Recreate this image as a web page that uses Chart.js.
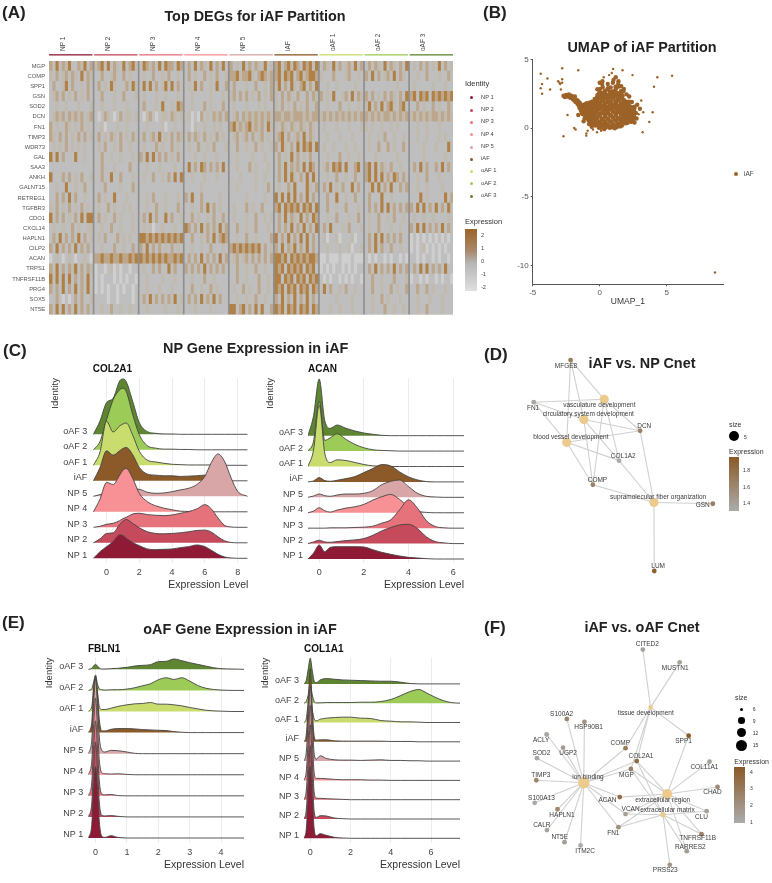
<!DOCTYPE html>
<html lang="en">
<head>
<meta charset="UTF-8">
<title>iAF Partition Figure</title>
<script src="https://cdn.jsdelivr.net/npm/chart.js"></script>
<style>
    html, body { margin: 0; background: #fff; }
    #page { position: relative; width: 772px; height: 883px; overflow: hidden; font-family: 'Liberation Sans', Arial, sans-serif; color: #222; filter: blur(0.3px); }
    canvas { position: absolute; }
    .t { position: absolute; white-space: nowrap; line-height: 1; }
    .bar { position: absolute; }
    .dot { position: absolute; border-radius: 50%; }
</style>
</head>
<body>
<div id="page"></div>
<script>
// ---------- data ----------
const groupNames = ['NP 1', 'NP 2', 'NP 3', 'NP 4', 'NP 5', 'iAF', 'oAF 1', 'oAF 2', 'oAF 3'];
const geneNames = ['MGP', 'COMP', 'SPP1', 'GSN', 'SOD2', 'DCN', 'FN1', 'TIMP3', 'WDR73', 'GAL', 'SAA3', 'ANKH', 'GALNT15', 'RETREG1', 'TGFBR3', 'CDO1', 'CXCL14', 'HAPLN1', 'CILP2', 'ACAN', 'TRPS1', 'TNFRSF11B', 'PRG4', 'SOX5', 'NT5E'];
// heatmap levels 0 (low) to 4 (high), one string per gene, one block per group
const heatRows = [
    '31413241132413 23414132141342 14323141433143 13141321413141 31214131321412 34134243143414 13214131231413 13132141321314 12131312141312',
    '21312313214132 11311231131211 12113112131121 13121131213112 33423342134323 34243413423443 21113111231121 31413123141321 11211311121131',
    '13112413112131 13121421113142 14141312414131 12141311214113 13111211311213 24131421341314 11211211111211 11111111112111 12111112111211',
    '12313121312131 11311121131112 12111211211121 11211111211121 23131312131213 21313213113132 31214112314132 31312131321314 34143414343434',
    '11211211121112 11211121112111 13111214112143 11211131211131 12111211121211 21312131213113 11211131121121 24131413421341 11312113121131',
    '12323132323123 10132101312212 10231012213212 12010312132313 12313232323232 33233233323233 23232323232323 32323233232323 23232323323232',
    '31211321213121 11201112112111 11211112011211 11021121121211 34232342323142 21321321321321 12111211121112 21211211212111 11211211121111',
    '32131312131312 13121321312131 13123141213132 13132131213121 12312313123121 23413123141321 11211121112111 12112131121121 11211211121211',
    '12121312121211 12131121311211 12111312113121 12113112131112 11311211312112 31421314143414 12112111211211 12113113121131 11112111211141',
    '41413111411211 11311211211121 31414131312131 11121121112111 11211112111211 13121413121311 11211131121121 11121111112111 11112111111211',
    '11111111111111 11311121111311 11211121111211 14131431313141 11211131211121 13141323141431 12314341411341 34141321311211 13141311314131',
    '41113131213112 11311411311121 12113112131414 11211121112111 11121111211211 13141421314141 11211311211311 34141413143131 11211311121111',
    '11211411211311 11131111211131 11111111111111 11111211111111 11211111211131 12113141114213 13141213114131 12414131411313 11211211112111',
    '11313141311211 13121141112111 11213111211121 31411311111211 11111211111211 41414141314131 11311411211311 13111411211111 11141211111413',
    '21312131213121 12113121121211 11211311211131 11211314131211 12111312113111 34143434143414 11311211311121 13131414131313 31414131413141',
    '41313121314144 13121131211121 13141311413112 11312112131131 12111211311212 13141321413143 11211311121131 12113112131121 12112112111121',
    '12112113121122 11211311211121 12120112111211 43131413131413 11311211311121 13131413141314 13141112131112 12113111211211 31414131314131',
    '13141313141312 12131113121211 44343434343434 11311213141343 11211311211113 41314131414131 12011201112011 13141413131311 01010101010101',
    '31413131413131 11211131121131 31413131213121 11211211311121 34343434341312 31413241314131 11211121120112 13141311311211 01012010101011',
    '01210121011210 33433433433434 43434343433434 13131413131413 12312313131313 44341434343443 00100010001000 10101101011010 11010110101101',
    '31413132413132 01101201011011 12113131141311 31313141313131 11311211311211 43414343414341 01010110101011 13141313141313 13141413131411',
    '41414141313141 01011101010110 11211112111211 11211131121111 11311211131121 44143414341434 10101101010110 11311211131112 01101011010110',
    '31314131413141 01010110101101 11211121112111 11311211312111 12113121131121 43414341434143 14131121311211 11311211312113 11311312111211',
    '11310101313112 11110110111101 13141313131412 13131413141311 11211211311211 31413141314131 11111211112111 11211312111211 11211121112111',
    '31414131413131 11211311211211 11211111211121 11121111211111 44134131414113 43414341434143 11121121112111 11211131121121 11211311112111'
];

// UMAP cells, estimated from the scatter; the first 40 are the sparse outliers
const umapX = [
    -4.4,-4.3,-4.4,-3.9,-3.7,-3.1,-2.8,-2.8,-2.8,-1.6,-2.7,-4.3,-3.0,-2.95,-2.9,1.0,1.7,2.45,4.3,5.4,
    4.05,3.95,3.1,3.25,2.9,3.7,3.2,8.6,-1.9,-1.8,-2.4,-1.0,-1.0,-0.9,-0.5,-0.2,0.1,0.9,0.7,0.3,
    -2.7,-2.6,-2.5,-2.4,-2.3,-2.2,-2.1,-2.0,-1.9,-1.85,-1.8,-1.7,-1.65,-1.6,-1.55,-1.5,-1.5,-1.45,-1.4,-1.4,
    -1.6,-1.2,-0.8,-0.6,0.0,0.2,0.6,1.2,1.4,1.6,1.8,2.0,2.2,2.4,2.6,2.7,2.8,2.75,3.0,2.6,
    -1.28,-1.12,-0.85,-0.72,-0.47,-0.33,-0.06,0.08,0.33,0.46,0.74,0.88,1.13,1.28,1.54,1.66,1.93,2.08,2.34,2.47,
    -1.33,-1.06,-0.93,-0.66,-0.52,-0.26,-0.13,0.14,0.27,0.53,0.67,0.94,1.07,1.34,1.46,1.73,1.87,2.14,2.26,2.53,
    -1.25,-1.15,-0.88,-0.74,-0.45,-0.35,-0.08,0.06,0.36,0.44,0.76,0.85,1.15,1.25,1.56,1.64,1.95,2.05,2.36,2.44,
    -1.36,-1.04,-0.96,-0.63,-0.55,-0.24,-0.15,0.16,0.24,0.56,0.64,0.96,1.04,1.36,1.44,1.76,1.84,2.16,2.24,2.56,
    -1.27,-1.13,-0.83,-0.76,-0.43,-0.37,-0.04,0.03,0.38,0.42,0.78,0.83,1.17,1.23,1.58,1.62,1.97,2.03,2.38,2.42,
    -1.32,-1.07,-0.95,-0.65,-0.54,-0.25,-0.14,0.17,0.26,0.54,0.62,0.97,1.06,1.35,1.45,1.74,1.86,2.15,2.27,2.55,
    -1.24,-1.16,-0.87,-0.73,-0.46,-0.32,-0.07,0.09,0.34,0.47,0.73,0.87,1.14,1.27,1.53,1.67,1.92,2.09,2.33,2.48,
    -1.35,-1.05,-0.92,-0.67,-0.51,-0.27,-0.12,0.13,0.28,0.52,0.68,0.93,1.08,1.33,1.47,1.72,1.88,2.13,2.28,2.52,
    -1.26,-1.14,-0.86,-0.75,-0.44,-0.36,-0.05,0.05,0.35,0.43,0.75,0.84,1.16,1.24,1.57,1.63,1.96,2.04,2.37,2.43,
    -1.34,-1.08,-0.94,-0.64,-0.53,-0.23,-0.16,0.15,0.25,0.55,0.63,0.95,1.05,1.37,1.43,1.75,1.85,2.17,2.23,2.57,
    -1.29,-1.11,-0.84,-0.77,-0.48,-0.34,-0.03,0.07,0.32,0.48,0.72,0.89,1.12,1.29,1.52,1.68,1.91,2.07,2.32,2.49,
    -1.31,-1.09,-0.97,-0.62,-0.56,-0.22,-0.17,0.12,0.29,0.51,0.69,0.92,1.09,1.32,1.48,1.71,1.89,2.12,2.29,2.51,
    -1.23,-1.17,-0.82,-0.78,-0.42,-0.38,-0.02,0.04,0.37,0.41,0.77,0.82,1.18,1.22,1.59,1.61,1.98,2.02,2.39,2.41,
    -1.37,-1.03,-0.98,-0.61,-0.57,-0.21,-0.18,0.18,0.23,0.57,0.61,0.98,1.03,1.38,1.42,1.78,1.82,2.18,2.22,2.58
];
const umapY = [
    3.95,3.2,2.9,3.6,2.8,3.4,4.35,3.55,3.3,4.2,-0.6,2.5,3.3,3.2,2.8,4.3,4.2,3.85,3.7,3.8,
    3.0,1.15,2.0,1.15,1.0,0.45,-0.3,-10.5,0,-0.1,0.95,-0.55,-0.4,-0.2,-0.1,-0.3,-0.2,4.0,3.85,3.7,
    2.35,2.25,2.4,2.3,2.45,2.2,2.35,2.1,2.0,2.3,1.9,2.05,1.75,1.95,1.6,1.85,1.45,1.7,1.3,1.55,
    0.95,0.5,0.3,0.1,3.3,3.4,3.2,3.7,3.4,3.05,2.85,2.45,2.3,1.9,1.55,1.1,1.7,0.7,1.4,0.4,
    1.02,0.72,0.58,0.38,0.28,0.18,0.02,0.03,-0.08,0.04,0.02,0.05,-0.02,0.08,0.12,0.18,0.34,0.38,0.45,0.58,
    1.1,0.88,0.7,0.52,0.45,0.34,0.28,0.22,0.2,0.27,0.2,0.3,0.22,0.28,0.3,0.41,0.45,0.52,0.56,0.7,
    1.15,0.97,0.85,0.7,0.62,0.55,0.45,0.5,0.43,0.42,0.5,0.48,0.55,0.5,0.55,0.58,0.62,0.65,0.62,0.78,
    1.22,1.05,0.93,0.82,0.78,0.72,0.75,0.7,0.62,0.68,0.66,0.78,0.75,0.72,0.7,0.78,0.75,0.8,0.75,0.85,
    1.28,1.15,1.05,0.98,0.9,0.92,0.95,0.95,0.88,0.86,0.92,0.98,1.02,0.95,0.95,0.94,0.88,0.92,0.85,0.9,
    1.33,1.22,1.18,1.1,1.08,1.12,1.15,1.14,1.1,1.05,1.12,1.22,1.2,1.18,1.14,1.12,1.05,1.0,0.92,1.0,
    1.38,1.32,1.28,1.22,1.25,1.3,1.38,1.4,1.3,1.3,1.35,1.42,1.48,1.4,1.35,1.3,1.15,1.12,1.02,1.05,
    1.44,1.4,1.42,1.38,1.38,1.46,1.6,1.6,1.55,1.5,1.55,1.68,1.7,1.62,1.55,1.52,1.28,1.22,1.08,1.12,
    1.5,1.48,1.5,1.5,1.5,1.62,1.8,1.82,1.75,1.7,1.78,1.9,1.95,1.85,1.78,1.7,1.42,1.34,1.18,1.18,
    1.55,1.55,1.58,1.6,1.62,1.78,2.0,2.05,1.98,1.9,1.98,2.15,2.2,2.08,2.0,1.92,1.55,1.45,1.25,1.22,
    1.6,1.6,1.65,1.7,1.72,1.9,2.2,2.3,2.2,2.15,2.2,2.4,2.42,2.3,2.2,2.15,1.7,1.58,1.35,1.28,
    1.64,1.65,1.7,1.78,1.8,2.02,2.4,2.55,2.42,2.35,2.45,2.65,2.7,2.55,2.45,2.35,1.82,1.7,1.45,1.32,
    1.67,1.7,1.75,1.85,1.85,2.12,2.6,2.85,2.7,2.55,2.65,2.95,3.0,2.85,2.7,2.5,1.92,1.8,1.52,1.36,
    1.7,1.75,1.8,1.9,1.92,2.22,2.82,3.2,2.98,2.8,2.9,3.3,3.5,3.2,3.02,2.7,2.02,1.92,1.6,1.42
];

// ridge densities, rows go NP 1 ... oAF 3
const col2a1X = [-0.8,-0.4,0,0.4,0.8,1,1.2,1.6,2,2.5,3,3.5,4,4.5,5,5.5,6,6.4,6.8,7.2,7.6,8,8.6];
const col2a1 = [
    [0,20,35,50,70,68,60,47,38,28,26,27,28,32,35,40,35,24,12,4,1,0,0],
    [0,12,28,30,55,65,70,58,45,33,28,27,28,30,33,37,38,32,18,6,1,0,0],
    [0,3,9,12,20,26,30,40,42,38,36,35,37,42,47,55,68,55,28,6,1,0,0],
    [0,38,88,82,110,125,130,100,55,30,18,11,6,2,1,0,0,0,0,0,0,0,0],
    [0,5,10,10,20,23,25,22,21,12,9,10,14,19,24,35,60,102,127,105,55,15,0],
    [0,40,90,77,90,97,100,78,40,20,17,15,15,13,14,15,17,10,5,2,0,0,0],
    [0,40,132,100,118,124,127,90,42,15,10,6,3,2,1,1,1,1,0,0,0,0,0],
    [0,25,90,150,180,185,175,105,45,12,5,2,2,1,1,0,0,0,0,0,0,0,0],
    [0,40,95,108,160,166,158,98,35,8,3,1,1,0,0,0,0,0,0,0,0,0,0]
];
const acanX = [-0.5,-0.25,0,0.25,0.5,0.8,1.2,1.6,2,2.4,2.8,3.2,3.6,4,4.4,4.8,5.2,5.6,6,6.5];
const acan = [
    [0,18,42,22,35,37,37,37,36,28,20,14,9,5,3,1,0,0,0,0],
    [0,5,10,5,4,6,9,11,15,25,38,48,56,58,45,20,6,2,0,0],
    [0,0,0,0,1,1,1,2,3,6,15,25,55,85,60,22,5,1,0,0],
    [0,5,15,6,2,8,14,18,25,38,48,55,40,18,5,1,0,0,0,0],
    [0,4,10,5,3,7,10,10,12,20,38,48,52,32,12,3,1,0,0,0],
    [0,3,13,4,2,5,10,16,28,40,52,48,30,15,6,1,0,0,0,0],
    [0,50,184,40,12,20,18,12,6,2,1,0,0,0,0,0,0,0,0,0],
    [0,30,150,32,40,52,35,20,10,4,2,1,0,0,0,0,0,0,0,0],
    [0,60,170,45,22,32,22,14,8,4,1,0,0,0,0,0,0,0,0,0]
];
const fbln1X = [-0.23,-0.12,-0.06,0,0.06,0.12,0.2,0.3,0.5,0.7,1,1.25,1.5,1.75,2,2.25,2.5,2.75,3,3.25,3.5,3.75,4,4.35,4.73];
const fbln1 = [
    [0,40,150,214,150,50,5,2,7,2,0,0,0,0,0,0,0,0,0,0,0,0,0,0,0],
    [0,40,150,225,150,45,5,3,4,2,0,0,0,0,0,0,0,0,0,0,0,0,0,0,0],
    [0,40,150,225,150,45,6,3,4,1,0,0,0,0,0,0,0,0,0,0,0,0,0,0,0],
    [0,40,150,230,150,45,6,3,2,3,1,0,0,0,0,0,0,0,0,0,0,0,0,0,0],
    [0,40,150,225,150,50,10,5,10,9,5,1,0,0,0,0,0,0,0,0,0,0,0,0,0],
    [0,30,130,170,120,40,5,5,10,12,12,11,9,8,7,6,3,1,0,0,0,0,0,0,0],
    [0,15,70,100,60,15,6,6,10,15,20,23,24,27,22,22,20,17,12,8,4,2,1,0,0],
    [0,5,25,46,20,5,2,1,2,2,4,8,14,20,32,38,33,38,28,15,7,3,1,0,0],
    [0,3,10,15,10,4,1,1,2,3,6,10,12,14,23,24,31,26,20,15,10,5,2,1,0]
];
const col1a1X = [-0.31,-0.2,-0.1,0,0.1,0.2,0.3,0.5,0.8,1.2,1.6,2,2.5,3,3.5,4,4.5,5,5.4,5.8,6.2,6.6,7,7.44];
const col1a1 = [
    [0,25,120,215,120,25,8,14,9,3,1,0,0,0,0,0,0,0,0,0,0,0,0,0],
    [0,25,120,220,120,20,5,10,9,3,1,0,0,0,0,0,0,0,0,0,0,0,0,0],
    [0,25,120,225,120,20,5,4,3,2,1,0,0,0,0,0,0,0,0,0,0,0,0,0],
    [0,25,120,225,120,20,6,6,5,3,2,2,2,1,1,0,0,0,0,0,0,0,0,0],
    [0,25,120,225,115,20,6,16,8,4,3,3,2,3,4,2,2,1,1,0,0,0,0,0],
    [0,20,110,220,100,15,5,6,6,3,2,2,2,2,2,1,1,1,0,0,0,0,0,0],
    [0,10,60,90,40,10,5,10,13,15,16,16,13,12,6,4,2,2,1,0,0,0,0,0],
    [0,5,25,60,25,5,1,1,2,2,2,2,3,3,5,11,23,36,41,30,18,8,2,0],
    [0,10,45,77,40,8,4,12,16,14,12,11,10,9,8,8,5,1,0,0,0,0,0,0]
];

// network D: terms first, then genes; x/y are the graph layout
const dNames = ['vasculature development', 'circulatory system development', 'blood vessel development', 'supramolecular fiber organization', 'MFGE8', 'FN1', 'DCN', 'COL1A2', 'COMP', 'GSN', 'LUM'];
const dLayoutX = [133.7, 112.7, 95, 185, 99, 61, 170.7, 149, 122, 245.7, 185.3];
const dLayoutY = [56.7, 77.7, 101.3, 163.7, 16, 59.7, 89.3, 120.3, 145.3, 165, 234.7];
const dSize = [5, 5, 5, 5, 0, 0, 0, 0, 0, 0, 0];
const dExpression = [0, 0, 0, 0, 1.7, 1.35, 1.65, 1.3, 1.65, 1.7, 1.95];
const dEdgeFrom = ['MFGE8', 'MFGE8', 'MFGE8', 'FN1', 'FN1', 'FN1', 'DCN', 'DCN', 'DCN', 'DCN', 'COL1A2', 'COL1A2', 'COL1A2', 'COL1A2', 'COMP', 'COMP', 'COMP', 'COMP', 'GSN', 'LUM'];
const dEdgeTo = [0, 1, 2, 0, 1, 2, 0, 1, 2, 3, 0, 1, 2, 3, 0, 1, 2, 3, 3, 3];

// network F
const fNames = ['tissue development', 'ion binding', 'extracellular region', 'extracellular matrix', 'CITED2', 'MUSTN1', 'S100A2', 'HSP90B1', 'ACLY', 'UGP2', 'SOD2', 'TIMP3', 'S100A13', 'HAPLN1', 'CALR', 'NT5E', 'ITM2C', 'COMP', 'COL2A1', 'MGP', 'SPP1', 'COL11A1', 'CHAD', 'ACAN', 'VCAN', 'CLU', 'FN1', 'TNFRSF11B', 'RARRES2', 'PRSS23'];
const fLayoutX = [181.7, 112.3, 199, 194.7, 173.7, 212, 94.7, 113, 73.7, 90.7, 63.7, 63, 61.3, 85, 74, 92.3, 109, 155.7, 167.3, 161.3, 221.3, 243, 251.3, 149.7, 155.7, 240, 148.3, 234.7, 219.3, 201.7];
const fLayoutY = [95.7, 174.3, 186, 207.7, 35.3, 48.7, 107.7, 110.7, 124, 137.7, 148.7, 171.7, 195.3, 202, 223.7, 236.3, 239.7, 138.3, 151.7, 160, 125.3, 152.3, 178.7, 189.3, 207, 204, 220.7, 228, 245.7, 260];
const fSize = [6, 15, 13, 7, 0, 0, 0, 0, 0, 0, 0, 0, 0, 0, 0, 0, 0, 0, 0, 0, 0, 0, 0, 0, 0, 0, 0, 0, 0, 0];
const fExpression = [0, 0, 0, 0, 1.3, 1.4, 2.6, 2.0, 1.3, 1.6, 1.2, 2.5, 1.1, 2.4, 1.3, 1.6, 1, 3.0, 3.8, 2.7, 4.3, 1.4, 2.3, 3.6, 1.5, 1.4, 2.1, 2.7, 1.6, 1.9];
const fEdgeFrom = ['CITED2', 'MUSTN1', 'SPP1', 'COMP', 'COL2A1', 'MGP',
    'S100A2', 'HSP90B1', 'ACLY', 'UGP2', 'SOD2', 'TIMP3', 'S100A13', 'HAPLN1', 'CALR', 'NT5E', 'ITM2C', 'COMP', 'COL2A1', 'MGP', 'ACAN', 'VCAN', 'FN1',
    'COL2A1', 'SPP1', 'COL11A1', 'CHAD', 'ACAN', 'VCAN', 'CLU', 'FN1', 'TNFRSF11B', 'RARRES2', 'MGP',
    'COL2A1', 'MGP', 'VCAN', 'CLU', 'FN1', 'TNFRSF11B', 'PRSS23', 'RARRES2'];
const fEdgeTo = [0, 0, 0, 0, 0, 0,
    1, 1, 1, 1, 1, 1, 1, 1, 1, 1, 1, 1, 1, 1, 1, 1, 1,
    2, 2, 2, 2, 2, 2, 2, 2, 2, 2, 2,
    3, 3, 3, 3, 3, 3, 3, 3];

// ---------- styling and placement ----------
const FONT = "'Liberation Sans', Arial, sans-serif";
const groupColors = ['#8e1a35', '#c44a5c', '#e6727c', '#f79195', '#d9a6a8', '#8b5a28', '#c9dd6f', '#9ccb58', '#5e8530'];
const heatPalette = ['#cfcfcf', '#bfbfbf', '#c1baae', '#bca78c', '#b08045'];
const page = document.getElementById('page');

Chart.defaults.animation = false;
Chart.defaults.events = [];
Chart.defaults.font.family = FONT;
Chart.defaults.plugins.legend.display = false;
Chart.defaults.plugins.tooltip.enabled = false;

function addText(str, x, y, o = {}) {
    const d = document.createElement('div');
    d.className = 't';
    d.textContent = str;
    d.style.left = x + 'px';
    d.style.top = y + 'px';
    d.style.fontSize = (o.size || 7) + 'px';
    if (o.bold) d.style.fontWeight = 'bold';
    if (o.color) d.style.color = o.color;
    const tx = o.align === 'c' ? '-50%' : o.align === 'r' ? '-100%' : '0';
    d.style.transform = `translate(${tx},-50%)`;
    page.appendChild(d);
}

function addBar(x, y, w, h, background) {
    const d = document.createElement('div');
    d.className = 'bar';
    d.style.cssText += `left:${x}px;top:${y}px;width:${w}px;height:${h}px;background:${background}`;
    page.appendChild(d);
}

function addDot(cx, cy, r, color) {
    const d = document.createElement('div');
    d.className = 'dot';
    d.style.cssText += `left:${cx - r}px;top:${cy - r}px;width:${2 * r}px;height:${2 * r}px;background:${color}`;
    page.appendChild(d);
}

function addCanvas(box) {
    const c = document.createElement('canvas');
    c.width = box.right - box.left;
    c.height = box.bottom - box.top;
    c.style.left = box.left + 'px';
    c.style.top = box.top + 'px';
    page.appendChild(c);
    return c;
}

// ---------- (A) heatmap: stacked horizontal bars, one dataset per cell column ----------
function drawHeatmap() {
    const box = { left: 0, top: 30, right: 458, bottom: 322 };
    const plot = { left: 49, top: 61, right: 453, bottom: 319 };
    const gapWidth = 0.54;
    const blocks = heatRows.map(r => r.split(' '));
    const perGroup = 14;
    const datasets = [];
    const centers = [];
    const edges = [];
    let pos = 0;
    groupNames.forEach((g, gi) => {
        edges.push([pos, pos + perGroup]);
        centers.push(pos + perGroup / 2);
        for (let c = 0; c < perGroup; c++) {
            datasets.push({
                data: geneNames.map(() => 1),
                backgroundColor: blocks.map(b => heatPalette[+(b[gi][c] || 1)]),
                borderWidth: 0, barPercentage: 1, categoryPercentage: 1
            });
        }
        pos += perGroup;
        if (gi < groupNames.length - 1) {
            datasets.push({
                data: geneNames.map(() => gapWidth),
                backgroundColor: '#8f8f8f',
                borderWidth: 0, barPercentage: 1, categoryPercentage: 1
            });
            pos += gapWidth;
        }
    });

    const canvas = addCanvas(box);
    canvas.style.filter = 'blur(0.5px)';
    new Chart(canvas, {
        type: 'bar',
        data: { labels: geneNames, datasets },
        options: {
            responsive: false,
            indexAxis: 'y',
            layout: { padding: { top: 0, right: box.right - plot.right, bottom: box.bottom - plot.bottom, left: 0 } },
            scales: {
                x: {
                    type: 'linear', position: 'top', stacked: true, min: 0, max: pos,
                    grid: { display: false, drawTicks: false }, border: { display: false },
                    afterFit: s => { s.height = plot.top - box.top; },
                    afterBuildTicks: s => { s.ticks = centers.map(v => ({ value: v })); },
                    ticks: {
                        autoSkip: false, minRotation: 90, maxRotation: 90, padding: 10,
                        font: { size: 6.5 }, color: '#444',
                        callback: (v, i) => groupNames[i]
                    }
                },
                y: {
                    stacked: true,
                    grid: { display: false, drawTicks: false }, border: { display: false },
                    afterFit: s => { s.width = plot.left - box.left; },
                    ticks: { autoSkip: false, padding: 4, font: { size: 5.8 }, color: '#555' }
                }
            }
        },
        plugins: [{
            id: 'heatDecor',
            beforeDatasetsDraw(chart) {
                const a = chart.chartArea;
                chart.ctx.fillStyle = '#bcbcbc';
                chart.ctx.fillRect(a.left, a.top, a.right - a.left, a.bottom - a.top);
            },
            afterDatasetsDraw(chart) {
                const sx = chart.scales.x, ctx = chart.ctx;
                edges.forEach((e, i) => {
                    ctx.fillStyle = groupColors[i];
                    ctx.fillRect(sx.getPixelForValue(e[0]), 24.2, sx.getPixelForValue(e[1]) - sx.getPixelForValue(e[0]), 1.3);
                });
            }
        }]
    });
}

// ---------- (B) UMAP scatter ----------
function drawUmap() {
    const box = { left: 505, top: 40, right: 730, bottom: 312 };
    const plot = { left: 532.7, top: 59.3, right: 723, bottom: 284.3 };
    const tickFont = { size: 8 };
    new Chart(addCanvas(box), {
        type: 'scatter',
        data: {
            datasets: [{
                data: umapX.map((x, i) => ({ x, y: umapY[i] })),
                backgroundColor: '#9c6228', borderWidth: 0,
                pointRadius: umapX.map((x, i) => i < 40 ? 1.2 : 2.2)
            }]
        },
        options: {
            responsive: false,
            layout: { padding: { top: plot.top - box.top, right: box.right - plot.right, bottom: 0, left: 0 } },
            scales: {
                x: {
                    min: -5, max: 9.2,
                    grid: { drawOnChartArea: false, tickLength: 2, color: '#555' },
                    border: { color: '#555' },
                    afterFit: s => { s.height = box.bottom - plot.bottom; },
                    afterBuildTicks: s => { s.ticks = [-5, 0, 5].map(v => ({ value: v })); },
                    ticks: { font: tickFont, color: '#555', padding: 2 },
                    title: { display: true, text: 'UMAP_1', font: { size: 8.5 }, color: '#333', padding: { top: 0, bottom: 5 } }
                },
                y: {
                    min: -11.36, max: 5,
                    grid: { drawOnChartArea: false, tickLength: 2, color: '#555' },
                    border: { color: '#555' },
                    afterFit: s => { s.width = plot.left - box.left; },
                    afterBuildTicks: s => { s.ticks = [-10, -5, 0, 5].map(v => ({ value: v })); },
                    ticks: { font: tickFont, color: '#555', padding: 2 }
                }
            }
        }
    });
    addDot(735.7, 173.7, 2.2, '#9c6228');
    addText('iAF', 744, 174, { size: 6.5, color: '#444' });
}

// ---------- (C, E) ridgeline panels ----------
function drawRidges(p) {
    const { box, plot, xs, rows, rowHeight, baseRows, xMin, xMax, xTicks } = p;
    const datasets = rows.map((r, i) => ({
        data: xs.map((x, k) => ({ x, y: i + (r[k] || 0) / rowHeight })),
        fill: { value: i },
        backgroundColor: groupColors[i],
        borderColor: '#444',
        borderWidth: 0.9,
        pointRadius: 0,
        cubicInterpolationMode: 'monotone'
    }));
    const rowPx = rowHeight / 3;
    new Chart(addCanvas(box), {
        type: 'line',
        data: { datasets },
        options: {
            responsive: false,
            layout: { padding: { top: plot.top - box.top, right: box.right - plot.right, bottom: 0, left: 0 } },
            scales: {
                x: {
                    type: 'linear', min: xMin, max: xMax,
                    grid: { color: '#ececec', drawTicks: false }, border: { display: false },
                    afterFit: s => { s.height = box.bottom - plot.bottom; },
                    afterBuildTicks: s => { s.ticks = xTicks.map(v => ({ value: v })); },
                    ticks: { font: { size: 9 }, color: '#444', padding: 4 },
                    title: { display: true, text: 'Expression Level', align: 'end', font: { size: 10.5 }, color: '#333', padding: { top: 0, bottom: 1 } }
                },
                y: {
                    min: -(plot.bottom - baseRows) / rowPx, max: (baseRows - plot.top) / rowPx,
                    grid: { display: false, drawTicks: false }, border: { display: false },
                    afterFit: s => { s.width = plot.left - box.left; },
                    afterBuildTicks: s => { s.ticks = groupNames.map((g, i) => ({ value: i })); },
                    ticks: { autoSkip: false, font: { size: 9 }, color: '#444', padding: 5, labelOffset: -3, callback: v => groupNames[v] },
                    title: { display: true, text: 'Identity', align: 'end', font: { size: 9.5 }, color: '#333', padding: { top: 0, bottom: 0 } }
                }
            }
        }
    });
}

// ---------- (D, F) gene-concept networks ----------
function lerpColor(t) {
    const a = [171, 171, 171], b = [139, 90, 40];
    const c = a.map((v, i) => Math.round(v + (b[i] - v) * t));
    return `rgb(${c.join(',')})`;
}

function drawNetwork(p) {
    const { box, names, xs, ys, sizes, expr, edgeFrom, edgeTo, sizeScale, exprMin, exprMax, labelPos } = p;
    const nodeColor = expr.map((v, i) => sizes[i] ? '#ecca8e' : lerpColor((v - exprMin) / (exprMax - exprMin)));
    const nodeR = sizes.map(s => s ? s * sizeScale : 2.4);
    const datasets = [{
        data: xs.map((x, i) => ({ x, y: ys[i] })),
        backgroundColor: nodeColor, borderWidth: 0, pointRadius: nodeR
    }];
    edgeFrom.forEach((name, i) => {
        const a = names.indexOf(name), b = edgeTo[i];
        datasets.push({
            data: [{ x: xs[a], y: ys[a] }, { x: xs[b], y: ys[b] }],
            showLine: true, borderColor: '#d0d0d0', borderWidth: 1.1, pointRadius: 0
        });
    });
    new Chart(addCanvas(box), {
        type: 'scatter',
        data: { datasets },
        options: {
            responsive: false,
            scales: {
                x: { display: false, min: 0, max: box.right - box.left },
                y: { display: false, reverse: true, min: 0, max: box.bottom - box.top }
            }
        },
        plugins: [{
            id: 'nodeLabels',
            afterDatasetsDraw(chart) {
                const ctx = chart.ctx, sx = chart.scales.x, sy = chart.scales.y;
                ctx.save();
                ctx.font = `6.5px ${FONT}`;
                ctx.fillStyle = '#3a3a3a';
                ctx.textAlign = 'center';
                ctx.textBaseline = 'middle';
                names.forEach((n, i) => {
                    ctx.fillText(n, sx.getPixelForValue(labelPos[i][0]), sy.getPixelForValue(labelPos[i][1]));
                });
                ctx.restore();
            }
        }]
    });
}

// ---------- build the page ----------
const LETTER = { size: 17, bold: true, color: '#222' };
const HEAD = { size: 14.4, bold: true, align: 'c', color: '#222' };
const GENE = { size: 10, bold: true, color: '#111' };

addText('(A)', 2, 12, LETTER);
addText('Top DEGs for iAF Partition', 255, 16, HEAD);
drawHeatmap();

// identity legend and colour bar of A
addText('Identity', 465, 84, { size: 7.5, color: '#333' });
const legendRowY = [97.7, 110, 122.3, 134.7, 147, 159, 171.3, 183.7, 196];
groupNames.forEach((g, i) => {
    addDot(471.7, legendRowY[i], 1.5, groupColors[i]);
    addText(g, 481, legendRowY[i], { size: 5.8, color: '#444' });
});
addText('Expression', 465, 221.7, { size: 7.5, color: '#333' });
addBar(465, 229.3, 12, 61.7, 'linear-gradient(#9c6428 0%, #a8886a 35%, #b5b5b5 55%, #e0e0e0 100%)');
[['2', 236], ['1', 249], ['0', 262], ['-1', 275], ['-2', 288]].forEach(t => addText(t[0], 481, t[1], { size: 5.5, color: '#444' }));

addText('(B)', 483, 12, LETTER);
addText('UMAP of iAF Partition', 642, 47, HEAD);
drawUmap();

addText('(C)', 3, 350, LETTER);
addText('NP Gene Expression in iAF', 255.7, 348, HEAD);
addText('COL2A1', 92.7, 369, GENE);
addText('ACAN', 308, 369, GENE);
drawRidges({
    box: { left: 50, top: 360, right: 252, bottom: 592 }, plot: { left: 92.3, top: 378, right: 248.3, bottom: 563 },
    xs: col2a1X, rows: col2a1, rowHeight: 46.5, baseRows: 558.3, xMin: -0.87, xMax: 8.65, xTicks: [0, 2, 4, 6, 8]
});
drawRidges({
    box: { left: 265, top: 360, right: 468, bottom: 592 }, plot: { left: 308, top: 378, right: 464, bottom: 563 },
    xs: acanX, rows: acan, rowHeight: 46.25, baseRows: 559, xMin: -0.5, xMax: 6.48, xTicks: [0, 2, 4, 6]
});

addText('(D)', 484, 354, LETTER);
addText('iAF vs. NP Cnet', 642, 363, HEAD);
drawNetwork({
    box: { left: 470, top: 340, right: 772, bottom: 600 },
    names: dNames, xs: dLayoutX, ys: dLayoutY, sizes: dSize, expr: dExpression,
    edgeFrom: dEdgeFrom, edgeTo: dEdgeTo, sizeScale: 0.92, exprMin: 1.3, exprMax: 2,
    labelPos: [[128.7, 63], [117.3, 72.3], [99.3, 96], [189.3, 158.7], [94.3, 22], [60.3, 65.7], [175, 84.3], [153.3, 115.3], [126.7, 140.3], [235.3, 166], [189.3, 229.3]]
});
addText('size', 729, 424, { size: 7, color: '#333' });
addDot(734, 436, 5, '#000');
addText('5', 744, 436.5, { size: 5, color: '#333' });
addText('Expression', 729, 450.7, { size: 7, color: '#333' });
addBar(728.7, 456.7, 10.3, 54, 'linear-gradient(#8b5a28, #ababab)');
[['1.8', 470], ['1.6', 486.7], ['1.4', 503]].forEach(t => addText(t[0], 743, t[1], { size: 5, color: '#333' }));

addText('(E)', 2, 622, LETTER);
addText('oAF Gene Expression in iAF', 240, 629, HEAD);
addText('FBLN1', 88, 649, GENE);
addText('COL1A1', 304, 649, GENE);
drawRidges({
    box: { left: 44, top: 640, right: 248, bottom: 872 }, plot: { left: 88.3, top: 657.7, right: 244, bottom: 843 },
    xs: fbln1X, rows: fbln1, rowHeight: 63.25, baseRows: 838, xMin: -0.23, xMax: 4.73, xTicks: [0, 1, 2, 3, 4]
});
drawRidges({
    box: { left: 260, top: 640, right: 464, bottom: 872 }, plot: { left: 304, top: 657.7, right: 460, bottom: 843 },
    xs: col1a1X, rows: col1a1, rowHeight: 57.9, baseRows: 838.3, xMin: -0.31, xMax: 7.44, xTicks: [0, 2, 4, 6]
});

addText('(F)', 484, 627, LETTER);
addText('iAF vs. oAF Cnet', 642, 626.7, HEAD);
drawNetwork({
    box: { left: 470, top: 610, right: 772, bottom: 883 },
    names: fNames, xs: fLayoutX, ys: fLayoutY, sizes: fSize, expr: fExpression,
    edgeFrom: fEdgeFrom, edgeTo: fEdgeTo, sizeScale: 0.38, exprMin: 1, exprMax: 4.3,
    labelPos: [[176.7, 101.7], [116.7, 168.3], [194.3, 192.3], [199.3, 202.7], [178.3, 30], [207.3, 55], [89.3, 102.7], [117.3, 116.7], [68, 130], [96, 143.7], [68.3, 143.7], [67.7, 166.3], [68.3, 190.3], [89.7, 208], [68.7, 218.3], [87.3, 230.7], [113.7, 246], [150.3, 133], [171.7, 146.3], [156.7, 166.3], [216, 131.3], [237.7, 158.3], [246, 184.7], [137, 192.7], [161, 201.7], [234.7, 210], [143, 226.7], [230.7, 232.7], [223, 241.7], [197, 266]]
});
addText('size', 735, 697, { size: 7, color: '#333' });
[[709.3, 1.7, '6'], [720.7, 3.3, '9'], [732.7, 4.5, '12'], [745, 5.5, '15']].forEach(t => {
    addDot(741.7, t[0], t[1], '#000');
    addText(t[2], 752.7, t[0], { size: 5, color: '#333' });
});
addText('Expression', 734.3, 760.7, { size: 7, color: '#333' });
addBar(734.3, 766.7, 10.7, 56, 'linear-gradient(#8b5a28, #ababab)');
[['4', 771.7], ['3', 788.3], ['2', 805], ['1', 821.7]].forEach(t => addText(t[0], 750, t[1], { size: 5, color: '#333' }));
</script>
</body>
</html>
